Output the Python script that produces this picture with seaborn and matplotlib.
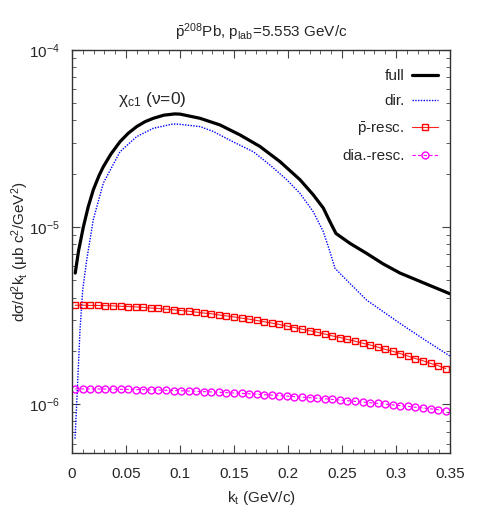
import numpy as np
import pandas as pd
import matplotlib
matplotlib.use("Agg")
import matplotlib.pyplot as plt
import matplotlib.ticker as mticker
import seaborn as sns

# full result
kt_full = [0.003, 0.006, 0.0105, 0.015, 0.0197, 0.025, 0.029, 0.036, 0.0444, 0.052,
           0.0599, 0.0675, 0.0753, 0.085, 0.095, 0.100, 0.1185, 0.137, 0.1556, 0.174,
           0.1926, 0.2111, 0.2234, 0.2327, 0.2389, 0.2444, 0.2574, 0.2728, 0.288, 0.3037,
           0.327, 0.35]
full = [5.5, 7.3, 10.0, 13.0, 16.2, 19.5, 21.9, 25.8, 30.3, 33.8,
        36.9, 39.3, 41.1, 42.8, 43.5, 43.4, 41.1, 37.7, 33.1, 28.5,
        23.4, 18.5, 15.2, 12.8, 10.7, 9.2, 8.09, 7.1, 6.2, 5.5,
        4.8, 4.2]

# direct production
kt_dir = [0.0028, 0.0049, 0.0074, 0.0099, 0.0136, 0.0197, 0.029, 0.0444, 0.0599, 0.0753,
          0.0938, 0.100, 0.1185, 0.1309, 0.149, 0.168, 0.1833, 0.1988, 0.2111, 0.2234,
          0.2327, 0.2389, 0.2435, 0.2574, 0.2728, 0.3037, 0.327, 0.35]
direct = [0.64, 1.2, 2.62, 4.4, 6.5, 11.0, 17.7, 26.6, 32.4, 36.1,
          38.2, 38.0, 36.9, 34.6, 30.3, 26.6, 22.4, 18.5, 15.5, 12.2,
          9.42, 7.24, 5.85, 4.8, 3.87, 2.86, 2.3, 1.87]

# rescattering curves (markers), kt = 0.003 ... 0.346
kt_resc = [0.003, 0.010, 0.017, 0.024, 0.031, 0.038, 0.045, 0.052, 0.059, 0.066,
           0.073, 0.080, 0.087, 0.094, 0.101, 0.108, 0.115, 0.122, 0.129, 0.136,
           0.143, 0.150, 0.157, 0.164, 0.171, 0.178, 0.185, 0.192, 0.199, 0.206,
           0.213, 0.220, 0.227, 0.234, 0.241, 0.248, 0.255, 0.262, 0.269, 0.276,
           0.283, 0.290, 0.297, 0.304, 0.311, 0.318, 0.325, 0.332, 0.339, 0.346]
pbar_resc = [3.62, 3.62, 3.61, 3.61, 3.60, 3.59, 3.57, 3.56, 3.54, 3.52,
             3.49, 3.47, 3.44, 3.41, 3.38, 3.35, 3.31, 3.27, 3.24, 3.19,
             3.15, 3.11, 3.06, 3.02, 2.97, 2.92, 2.87, 2.82, 2.76, 2.71,
             2.65, 2.60, 2.55, 2.49, 2.43, 2.38, 2.32, 2.27, 2.21, 2.16,
             2.10, 2.04, 1.99, 1.93, 1.87, 1.81, 1.76, 1.70, 1.65, 1.59]
dia_resc = [1.220, 1.220, 1.219, 1.219, 1.218, 1.216, 1.214, 1.212, 1.210, 1.208,
            1.205, 1.202, 1.199, 1.195, 1.191, 1.187, 1.183, 1.178, 1.173, 1.168,
            1.163, 1.157, 1.151, 1.145, 1.139, 1.132, 1.125, 1.118, 1.111, 1.104,
            1.097, 1.089, 1.081, 1.073, 1.065, 1.056, 1.047, 1.038, 1.029, 1.020,
            1.011, 1.001, 0.991, 0.981, 0.972, 0.962, 0.952, 0.942, 0.931, 0.921]

sns.set_style("ticks")
plt.rcParams['font.family'] = ['Liberation Sans', 'DejaVu Sans']
plt.rcParams['mathtext.fontset'] = 'custom'
plt.rcParams['mathtext.rm'] = 'Liberation Sans'
plt.rcParams['mathtext.it'] = 'Liberation Sans:italic'
plt.rcParams['font.size'] = 11

fig = plt.figure(figsize=(4.8, 5.25), dpi=100)
ax = fig.add_axes([0.15, 0.137, 0.7875, 0.768])

sc = 1e-6
sns.lineplot(x=kt_full, y=np.array(full) * sc, ax=ax, color='black', lw=2.3,
             label='full', sort=False)
sns.lineplot(x=kt_dir, y=np.array(direct) * sc, ax=ax, color='#0000ff', lw=1,
             linestyle=(0, (1, 1)), label='dir.', sort=False)
sns.lineplot(x=kt_resc, y=np.array(pbar_resc) * sc, ax=ax, color='#ff2020', lw=0.8,
             marker='s', markersize=5, markerfacecolor='none', markeredgecolor='#ff0000',
             markeredgewidth=1, label=r'$\mathregular{\bar{p}}$-resc.', sort=False)
sns.lineplot(x=kt_resc, y=np.array(dia_resc) * sc, ax=ax, color='#ff00ff', lw=0.8,
             linestyle=(0, (3, 2)), marker='o', markersize=5, markerfacecolor='none',
             markeredgecolor='#ff00ff', markeredgewidth=1, label='dia.-resc.', sort=False)

ax.set_yscale('log')
ax.set_xlim(0, 0.35)
ax.set_ylim(5.3e-7, 1e-4)
ax.xaxis.set_major_locator(mticker.MultipleLocator(0.05))
ax.xaxis.set_minor_locator(mticker.MultipleLocator(0.01))
ax.xaxis.set_major_formatter(mticker.FuncFormatter(lambda v, p: f"{v:g}"))
ax.yaxis.set_major_locator(mticker.LogLocator(base=10))
ax.yaxis.set_minor_locator(mticker.LogLocator(base=10, subs=np.arange(2, 10)))
ax.yaxis.set_minor_formatter(mticker.NullFormatter())
ax.tick_params(which='both', direction='in', top=True, right=True, labelsize=11,
               color='#444444')
ax.tick_params(which='major', length=6, width=0.8)
ax.tick_params(which='minor', length=3, width=0.6)
ax.tick_params(axis='x', which='major', pad=10)
ax.tick_params(axis='y', which='major', pad=9)
for s in ax.spines.values():
    s.set_linewidth(1)
    s.set_color('#333333')

ax.set_xlabel(r'k$_\mathregular{t}$ (GeV/c)', fontsize=11, labelpad=6)
ax.set_ylabel(r'dσ/d$^\mathregular{2}$k$_\mathregular{t}$ (μb c$^\mathregular{2}$/GeV$^\mathregular{2}$)',
              fontsize=11, labelpad=-2)
ax.set_title(r'$\mathregular{\bar{p}^{208}}$Pb, p$_\mathregular{lab}$=5.553 GeV/c', fontsize=11, pad=9)
ax.text(0.122, 0.876, r'χ$_\mathregular{c1}$ (ν=0)', transform=ax.transAxes,
        fontsize=12.5, va='center', ha='left')

ax.legend(loc='upper right', bbox_to_anchor=(0.985, 0.968), frameon=False,
          markerfirst=False, fontsize=11, handlelength=1.7, labelspacing=0.75,
          borderaxespad=0, handletextpad=0.5)

fig.savefig('out.png', dpi=100)
